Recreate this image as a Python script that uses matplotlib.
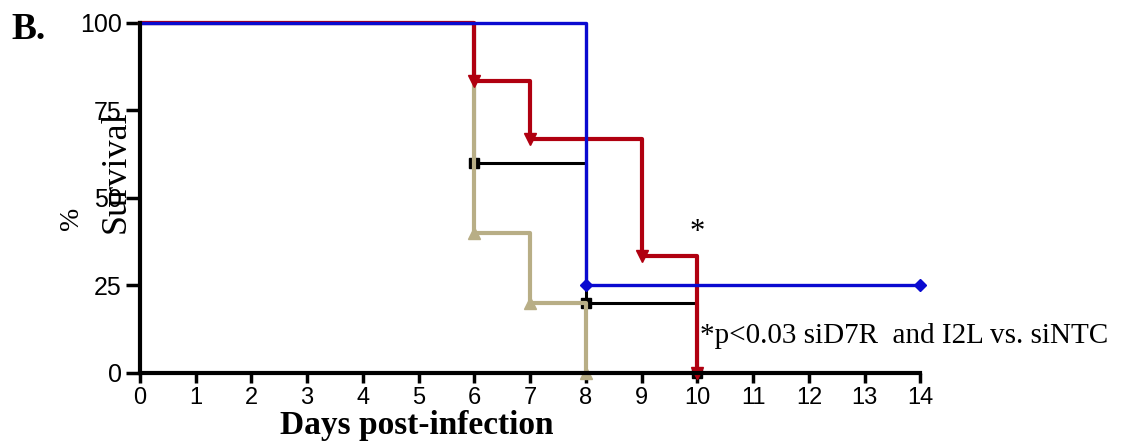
import matplotlib.pyplot as plt

# survival curves (days, % survival)
days_ntc = [0, 8, 14]
surv_ntc = [100, 25, 25]

days_d7r = [0, 6, 7, 9, 10]
surv_d7r = [100, 83.3, 66.7, 33.3, 0]

days_i2l = [0, 6, 7, 8]
surv_i2l = [100, 40, 20, 0]

days_blk = [0, 6, 8, 10]
surv_blk = [100, 60, 20, 0]

xticks = list(range(0, 15))
yticks = [0, 25, 50, 75, 100]

fig = plt.figure(figsize=(11.28, 4.47), dpi=100)
ax = fig.add_axes([0.124, 0.166, 0.692, 0.783])

ax.plot(days_blk, surv_blk, drawstyle='steps-post', color='black', lw=2.2,
        marker='s', ms=7, markevery=slice(1, None), clip_on=False, zorder=3)
ax.plot(days_i2l, surv_i2l, drawstyle='steps-post', color='#b8ae86', lw=3,
        marker='^', ms=8, markevery=slice(1, None), clip_on=False, zorder=4)
ax.plot(days_d7r, surv_d7r, drawstyle='steps-post', color='#b00010', lw=3,
        marker='v', ms=8, markevery=slice(1, None), clip_on=False, zorder=5)
ax.plot(days_ntc, surv_ntc, drawstyle='steps-post', color='#0a0ad0', lw=2.4,
        marker='D', ms=6, markevery=slice(1, None), clip_on=False, zorder=6)

ax.set_xlim(0, 14)
ax.set_ylim(0, 100)
ax.set_xticks(xticks)
ax.set_yticks(yticks)
for s in ['top', 'right']:
    ax.spines[s].set_visible(False)
for s in ['left', 'bottom']:
    ax.spines[s].set_linewidth(3)
    ax.spines[s].set_zorder(7)
ax.tick_params(axis='y', length=10, width=2.5, labelsize=18, pad=3)
ax.tick_params(axis='x', length=7, width=2.5, labelsize=17, pad=3)
for lab in ax.get_xticklabels() + ax.get_yticklabels():
    lab.set_fontfamily('Liberation Sans')

ax.set_xlabel('Days post-infection', fontfamily='Liberation Serif',
              fontweight='bold', fontsize=24, labelpad=0)
ax.xaxis.set_label_coords(0.355, -0.105)

fig.text(0.063, 0.512, '%', rotation=90, fontfamily='Liberation Serif',
         fontsize=20, ha='center', va='center')
fig.text(0.103, 0.615, 'Survival', rotation=90, fontfamily='Liberation Serif',
         fontsize=26, ha='center', va='center')

fig.text(0.01, 0.935, 'B.', fontfamily='Liberation Serif', fontweight='bold',
         fontsize=27, ha='left', va='center')

ax.text(10, 40, '*', fontfamily='Liberation Serif', fontsize=22,
        ha='center', va='center')
ax.text(10.05, 10.5, '*p<0.03 siD7R  and I2L vs. siNTC',
        fontfamily='Liberation Serif', fontsize=21, ha='left', va='center')

fig.savefig('out.png', dpi=100)
